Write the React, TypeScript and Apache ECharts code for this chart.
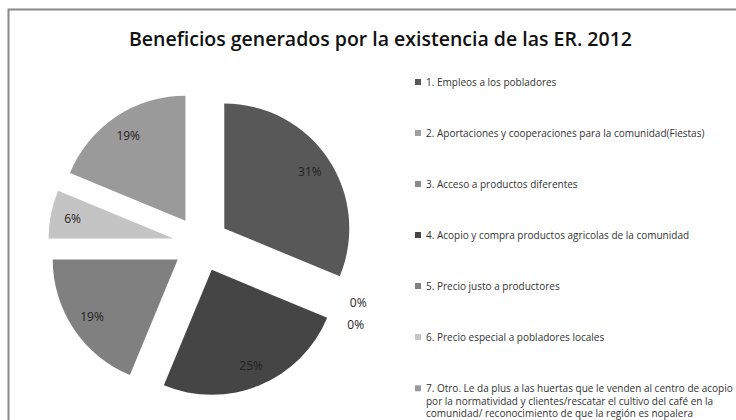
import React, { useEffect, useRef } from "react";
import * as echarts from "echarts";

const titleText = "Beneficios generados por la existencia de las ER. 2012";
const categories = [
  "1. Empleos a los pobladores",
  "2. Aportaciones y cooperaciones para la comunidad(Fiestas)",
  "3. Acceso a productos diferentes",
  "4. Acopio y compra productos agricolas de la comunidad",
  "5. Precio justo a productores",
  "6. Precio especial a pobladores locales",
  "7. Otro. Le da plus a las huertas que le venden al centro de acopio\npor la normatividad y clientes/rescatar el cultivo del café en la\ncomunidad/ reconocimiento de que la región es nopalera",
];
const counts = [5, 0, 0, 4, 3, 1, 3];
const colors = ["#585858", "#a0a0a0", "#8a8a8a", "#454545", "#808080", "#c4c4c4", "#9a9a9a"];

export default function App() {
  const ref = useRef<HTMLDivElement>(null);
  useEffect(() => {
    if (!ref.current) return;
    const chart = echarts.init(ref.current, undefined, { renderer: "svg" });
    const pieData = categories.map((name, i) => ({
      name,
      value: counts[i],
      selected: true,
      itemStyle: { color: colors[i] },
    }));
    const labelData = categories.map((name, i) => ({
      name,
      value: counts[i],
      selected: true,
      label:
        counts[i] === 0
          ? { position: "outside", lineHeight: 20 }
          : { position: "inside" },
      labelLine: { show: false, length: 0, length2: 0 },
    }));
    const font = "'Open Sans', 'Noto Sans', sans-serif";
    chart.setOption({
      animation: false,
      backgroundColor: "#ffffff",
      color: colors,
      title: {
        text: titleText,
        left: 124,
        top: 23,
        textStyle: { fontFamily: font, fontSize: 19.5, fontWeight: 600, color: "#111" },
      },
      graphic: [
        {
          type: "rect",
          shape: { x: 8.5, y: 9.5, width: 900, height: 600 },
          style: { fill: "none", stroke: "#8a8a8a", lineWidth: 2 },
          silent: true,
        },
      ],
      legend: [
        {
          orient: "vertical",
          left: 410,
          top: 71,
          itemWidth: 6,
          itemHeight: 6,
          itemGap: 39,
          icon: "rect",
          selectedMode: false,
          data: categories.slice(0, 6),
          textStyle: { fontFamily: font, fontSize: 10, lineHeight: 12, color: "#333" },
        },
        {
          orient: "vertical",
          left: 410,
          top: 352,
          itemWidth: 6,
          itemHeight: 6,
          icon: "rect",
          selectedMode: false,
          data: categories.slice(6),
          formatter: (name: string) => "\n\n" + name,
          textStyle: {
            fontFamily: font,
            fontSize: 10,
            lineHeight: 12.5,
            color: "#333",
          },
        },
      ],
      series: [
        {
          type: "pie",
          center: [201, 244],
          radius: [0, 125],
          startAngle: 90,
          selectedMode: "multiple",
          selectedOffset: 28,
          label: { show: false },
          labelLine: { show: false },
          emphasis: { disabled: true },
          data: pieData,
        },
        {
          type: "pie",
          center: [201, 244],
          radius: [75, 125],
          startAngle: 90,
          selectedMode: "multiple",
          selectedOffset: 28,
          silent: true,
          percentPrecision: 0,
          itemStyle: { color: "rgba(0,0,0,0)" },
          emphasis: { disabled: true },
          label: {
            show: true,
            formatter: "{d}%",
            fontFamily: font,
            fontSize: 12,
            color: "#222",
          },
          data: labelData,
        },
      ],
    });
    return () => chart.dispose();
  }, []);
  return (
    <div
      ref={ref}
      style={{ position: "absolute", left: 0, top: 0, width: 736, height: 420 }}
    />
  );
}
